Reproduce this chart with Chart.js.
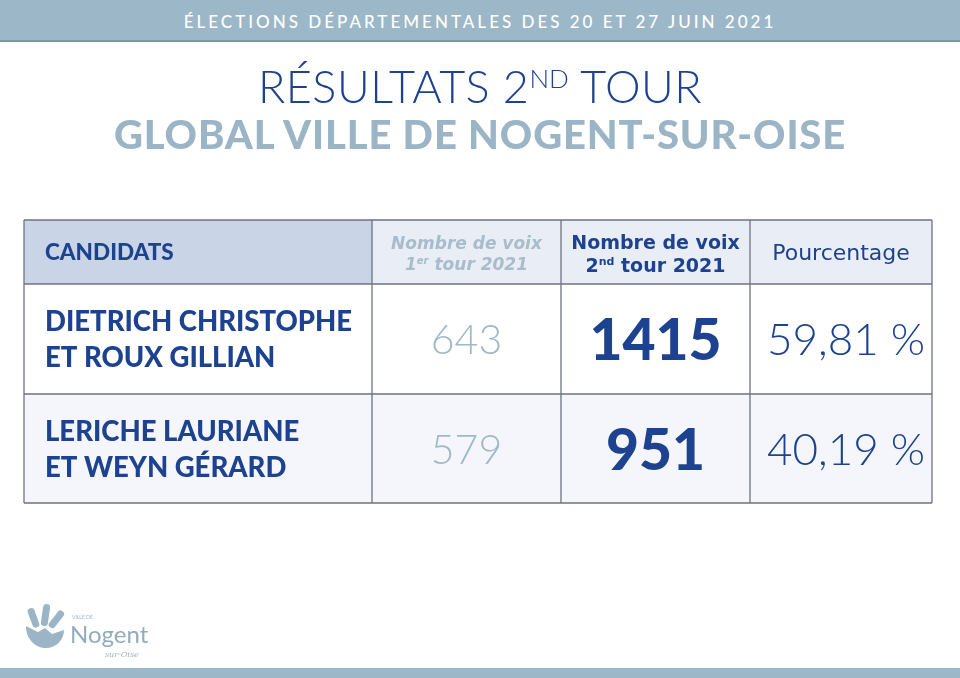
<!DOCTYPE html>
<html lang="fr">
<head>
<meta charset="utf-8">
<title>Résultats 2nd tour – Nogent-sur-Oise</title>
<script src="https://cdn.jsdelivr.net/npm/chart.js@4.4.1/dist/chart.umd.min.js"></script>
<style>
  html, body { margin: 0; padding: 0; background: #fff; }
  #page { position: relative; width: 960px; height: 678px; overflow: hidden; font-family: Lato, sans-serif; }
  #tableau { position: absolute; left: 0; top: 0; }
  #bandeau {
    position: absolute; left: 0; top: 0; width: 960px; height: 40px;
    background: #9cb8c8; border-bottom: 2px solid #80969f;
    color: #fff; text-align: center; font-size: 17px; font-weight: 500; line-height: 43px; letter-spacing: 3px;
  }
  #titre {
    position: absolute; left: 0; top: 56px; width: 100%; text-align: center;
    color: #1d428f; font-weight: 300; font-size: 45px; letter-spacing: 0.5px; line-height: 60px;
  }
  #titre sup { font-size: 26px; vertical-align: 0; position: relative; top: -15px; letter-spacing: 0; }
  #sous-titre {
    position: absolute; left: 0; top: 110px; width: 100%; text-align: center;
    color: #9bb5c6; font-weight: 900; font-size: 40px; letter-spacing: 0.85px; line-height: 48px;
  }
  #pied { position: absolute; left: 0; top: 668px; width: 960px; height: 10px; background: #9cb8c8; }
  #logo { position: absolute; left: 20px; top: 600px; }
</style>
</head>
<body>
<div id="page">
  <canvas id="tableau" width="960" height="678"></canvas>
  <div id="bandeau">ÉLECTIONS DÉPARTEMENTALES DES 20 ET 27 JUIN 2021</div>
  <div id="titre">RÉSULTATS 2<sup>ND</sup> TOUR</div>
  <div id="sous-titre">GLOBAL VILLE DE NOGENT-SUR-OISE</div>
  <svg id="logo" width="140" height="64" viewBox="0 0 140 64">
    <g fill="#9bb5c6">
      <path d="M6 26 C6 40 16 48 26 48 C36 48 44 40 44 30 L32 34 L25 28 L18 32 Z"/>
      <rect x="10" y="8" width="7" height="20" rx="3" transform="rotate(-20 13 18)"/>
      <rect x="22" y="4" width="7" height="22" rx="3" transform="rotate(8 25 15)"/>
      <rect x="33" y="9" width="7" height="20" rx="3" transform="rotate(38 36 19)"/>
    </g>
    <text x="52" y="19" font-family="Lato" font-size="5" fill="#9bb5c6">VILLE DE</text>
    <text x="50" y="43" font-family="Lato" font-size="24" fill="#93acbb">Nogent</text>
    <text x="85" y="57" font-family="DejaVu Serif" font-style="italic" font-size="8" fill="#9bb5c6">sur-Oise</text>
  </svg>
  <div id="pied"></div>
</div>

<script>
// données du tableau
const enTetes = ['CANDIDATS', 'Nombre de voix', 'Nombre de voix', 'Pourcentage'];
const candidats = [
  ['DIETRICH CHRISTOPHE', 'ET ROUX GILLIAN'],
  ['LERICHE LAURIANE', 'ET WEYN GÉRARD']
];
const voixTour1 = [643, 579];
const voixTour2 = [1415, 951];
const pourcentages = [59.81, 40.19];

// bords des colonnes / lignes, en unités des axes
const bordsColonnes = [0, 348, 537, 726, 908];
const bordsLignes = [0, 64, 174, 283];

const bleu = '#1d428f';
const grisBleu = '#9fb9c6';
const trait = '#6f7380';

function formatPct(v) {
  return v.toFixed(2).replace('.', ',') + ' %';
}

// texte composé de morceaux (exposants), centré sur cx
function texteMixte(ctx, morceaux, cx, base, couleur) {
  let total = 0;
  morceaux.forEach(m => { ctx.font = m.font; m.w = ctx.measureText(m.t).width; total += m.w; });
  let xx = cx - total / 2;
  ctx.fillStyle = couleur;
  ctx.textAlign = 'left';
  ctx.textBaseline = 'alphabetic';
  morceaux.forEach(m => {
    ctx.font = m.font;
    ctx.fillText(m.t, xx, base + (m.dy || 0));
    xx += m.w;
  });
}

const pluginTableau = {
  id: 'tableau',
  afterDraw(chart) {
    const { ctx, scales: { x, y } } = chart;
    const px = bordsColonnes.map(v => x.getPixelForValue(v));
    const py = bordsLignes.map(v => y.getPixelForValue(v));
    ctx.save();

    // fonds des cellules
    for (let r = 0; r < 3; r++) {
      for (let c = 0; c < 4; c++) {
        let fond = '#ffffff';
        if (r === 0) fond = c === 0 ? '#c9d5e7' : '#e9edf6';
        if (r === 2) fond = '#f4f6fb';
        ctx.fillStyle = fond;
        ctx.fillRect(px[c], py[r], px[c + 1] - px[c], py[r + 1] - py[r]);
      }
    }

    // grille
    ctx.strokeStyle = trait;
    ctx.lineWidth = 1.3;
    ctx.beginPath();
    py.forEach(v => { ctx.moveTo(px[0], v); ctx.lineTo(px[4], v); });
    px.forEach(v => { ctx.moveTo(v, py[0]); ctx.lineTo(v, py[3]); });
    ctx.stroke();

    const cx = c => (px[c] + px[c + 1]) / 2;
    const cy = r => (py[r] + py[r + 1]) / 2;

    // en-têtes
    ctx.fillStyle = bleu;
    ctx.font = '900 22.5px Lato';
    ctx.textAlign = 'left';
    ctx.textBaseline = 'alphabetic';
    ctx.fillText(enTetes[0], px[0] + 21, cy(0) + 8);

    const fItal = 'italic bold 17px "DejaVu Sans"';
    const fItalSup = 'italic bold 10px "DejaVu Sans"';
    texteMixte(ctx, [{ t: enTetes[1], font: fItal }], cx(1), cy(0) - 3, '#a9bccb');
    texteMixte(ctx, [
      { t: '1', font: fItal }, { t: 'er', font: fItalSup, dy: -6 }, { t: ' tour 2021', font: fItal }
    ], cx(1), cy(0) + 18, '#a9bccb');

    const fGras = 'bold 19px "DejaVu Sans"';
    const fGrasSup = 'bold 11px "DejaVu Sans"';
    texteMixte(ctx, [{ t: enTetes[2], font: fGras }], cx(2), cy(0) - 3, bleu);
    texteMixte(ctx, [
      { t: '2', font: fGras }, { t: 'nd', font: fGrasSup, dy: -7 }, { t: ' tour 2021', font: fGras }
    ], cx(2), cy(0) + 20, bleu);

    texteMixte(ctx, [{ t: enTetes[3], font: '400 22px "DejaVu Sans"' }], cx(3), cy(0) + 8, bleu);

    // lignes des candidats
    candidats.forEach((noms, i) => {
      const r = i + 1;
      ctx.fillStyle = bleu;
      ctx.font = '900 27.5px Lato';
      ctx.textAlign = 'left';
      ctx.fillText(noms[0], px[0] + 21, cy(r) - 18 + 10);
      ctx.fillText(noms[1], px[0] + 21, cy(r) + 18 + 10);

      texteMixte(ctx, [{ t: String(voixTour1[i]), font: '300 41px Lato' }], cx(1), cy(r) + 15, grisBleu);
      texteMixte(ctx, [{ t: String(voixTour2[i]), font: '900 57px Lato' }], cx(2), cy(r) + 21, bleu);
      texteMixte(ctx, [{ t: formatPct(pourcentages[i]), font: '300 44px Lato' }], cx(3) + 5, cy(r) + 16, bleu);
    });

    ctx.restore();
  }
};

new Chart(document.getElementById('tableau'), {
  type: 'scatter',
  data: { datasets: [{ data: [] }] },
  options: {
    responsive: false,
    animation: false,
    devicePixelRatio: 1,
    layout: { padding: { left: 24, top: 220, right: 28, bottom: 175 } },
    scales: {
      x: { type: 'linear', min: 0, max: 908, display: false },
      y: { type: 'linear', min: 0, max: 283, reverse: true, display: false }
    },
    plugins: { legend: { display: false }, tooltip: { enabled: false } }
  },
  plugins: [pluginTableau]
});
</script>
</body>
</html>
